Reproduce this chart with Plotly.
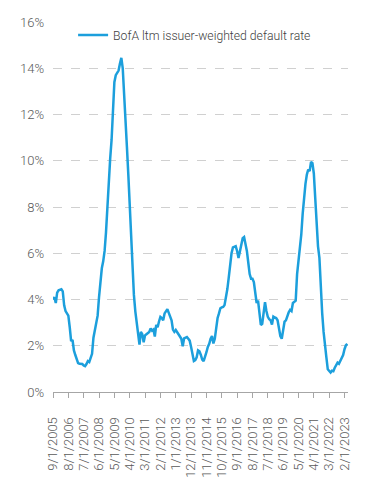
import plotly.graph_objects as go

# Monthly BofA ltm issuer-weighted default rate (%), 9/2005 .. 4/2023
default_rate = [
    4.0, 4.1, 3.85, 4.3, 4.4, 4.42, 4.44, 4.35, 3.75, 3.5,
    3.42, 3.3, 2.8, 2.2, 2.25, 1.8, 1.6, 1.4, 1.25, 1.22,
    1.21, 1.21, 1.15, 1.12, 1.21, 1.34, 1.3, 1.45, 1.65, 2.35,
    2.72, 2.9, 3.3, 4.1, 4.9, 5.35, 5.65, 6.1, 6.9, 8.0,
    9.5, 10.1, 10.9, 12.5, 13.4, 13.7, 13.78, 13.9, 14.2, 14.45,
    14.0, 13.0, 11.76, 10.6, 9.4, 8.1, 6.4, 5.4, 4.2, 3.5,
    3.0, 2.5, 2.05, 2.6, 2.5, 2.15, 2.45, 2.5, 2.55, 2.6,
    2.75, 2.65, 2.7, 2.4, 2.9, 2.8, 3.05, 3.25, 3.2, 3.1,
    3.4, 3.5, 3.58, 3.42, 3.28, 3.1, 2.7, 2.6, 2.68, 2.6,
    2.48, 2.4, 2.3, 1.98, 2.32, 2.35, 2.38, 2.3, 2.22, 1.95,
    1.6, 1.34, 1.38, 1.5, 1.8, 1.76, 1.6, 1.4, 1.33, 1.5,
    1.72, 1.95, 2.08, 2.3, 2.42, 2.1, 2.3, 2.75, 3.2, 3.4,
    3.62, 3.66, 3.68, 3.76, 4.05, 4.45, 4.95, 5.56, 6.0, 6.25,
    6.26, 6.3, 6.1, 5.8, 6.08, 6.35, 6.65, 6.7, 6.45, 6.1,
    5.6, 5.1, 4.9, 4.9, 4.75, 4.3, 3.85, 3.95, 3.4, 2.9,
    2.95, 3.4, 3.88, 3.5, 3.25, 3.15, 3.1, 2.92, 3.26, 3.22,
    3.2, 3.1, 2.7, 2.42, 2.3, 2.65, 3.04, 3.1, 3.3, 3.45,
    3.55, 3.5, 3.85, 3.92, 3.95, 5.1, 5.6, 6.1, 6.8, 7.7,
    8.5, 9.0, 9.4, 9.62, 9.55, 9.95, 9.9, 9.45, 8.4, 7.1,
    6.3, 5.8, 4.3, 3.4, 2.6, 1.85, 1.5, 0.98, 0.9, 0.84,
    0.92, 0.9, 1.05, 1.18, 1.27, 1.22, 1.35, 1.5, 1.6, 1.85,
    2.02, 2.08,
]

# month labels (first of month), starting 9/1/2005
start_year, start_month = 2005, 9
dates = []
for i in range(len(default_rate)):
    m = start_month - 1 + i
    dates.append(f"{m % 12 + 1}/1/{start_year + m // 12}")

tick_step = 11
tick_idx = list(range(0, len(dates), tick_step))
tick_labels = [dates[i] for i in tick_idx]
y_ticks = [0, 2, 4, 6, 8, 10, 12, 14, 16]
series_name = "BofA ltm issuer-weighted default rate"

x_idx = list(range(len(default_rate)))

fig = go.Figure()
fig.add_trace(go.Scatter(
    x=x_idx, y=[v / 100 for v in default_rate], mode="lines",
    name=series_name,
    line=dict(color="#1C9FDC", width=2.5),
    customdata=dates,
    hovertemplate="%{customdata}: %{y:.1%}<extra></extra>",
))

font_family = "Roboto, 'Open Sans', sans-serif"
# page body adds an 8px margin, so the figure is 8px smaller each way
fig.update_layout(
    width=360, height=472,
    margin=dict(l=45, r=20, t=14, b=88),
    paper_bgcolor="white", plot_bgcolor="white",
    font=dict(family=font_family, size=12, color="#595959", weight=300),
    showlegend=True,
    legend=dict(
        x=0.48, xanchor="center", y=0.965, yanchor="middle",
        orientation="h", bgcolor="rgba(0,0,0,0)",
        font=dict(size=12.2, color="#404040", family=font_family, weight=300),
        itemwidth=30,
    ),
    xaxis=dict(
        range=[0, 211.5], tickmode="array",
        tickvals=tick_idx, ticktext=tick_labels, tickangle=-90,
        showgrid=False, zeroline=False, automargin=False,
        showline=True, linecolor="#a6a6a6", linewidth=1,
        ticks="outside", ticklen=5, tickcolor="#a6a6a6", tickwidth=1,
        ticklabelstandoff=14,
        tickfont=dict(size=13, color="#595959"),
    ),
    yaxis=dict(
        range=[0, 0.16], tickmode="array",
        tickvals=[v / 100 for v in y_ticks],
        ticktext=[f"{v}%" for v in y_ticks],
        showgrid=True, gridcolor="#d0d0d0", griddash="dash", gridwidth=1,
        zeroline=False, showline=False, ticks="", automargin=False,
        ticklabelstandoff=8,
        tickfont=dict(size=13, color="#595959"),
    ),
)

fig.write_html("out.html")
